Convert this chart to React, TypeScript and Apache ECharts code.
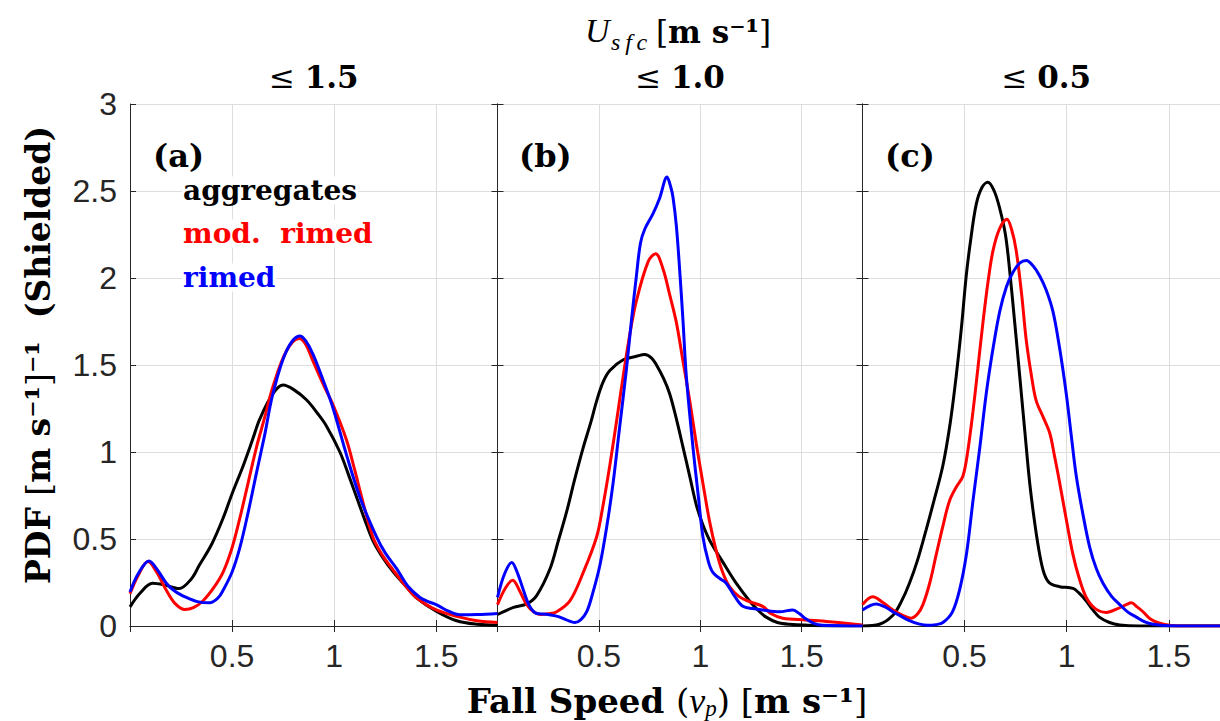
import React, { useEffect, useRef } from "react";
import * as echarts from "echarts";

// ---- data (fall speed [m/s], PDF) ----
const aggA: number[][] = [[0,0.11],[0.05,0.19],[0.11,0.245],[0.17,0.235],[0.24,0.215],[0.3,0.27],[0.34,0.35],[0.4,0.47],[0.456,0.62],[0.5,0.76],[0.554,0.92],[0.6,1.07],[0.636,1.19],[0.7,1.335],[0.75,1.385],[0.8,1.36],[0.864,1.3],[0.92,1.22],[0.962,1.15],[1.028,1.0],[1.07,0.87],[1.11,0.74],[1.15,0.61],[1.19,0.49],[1.24,0.39],[1.29,0.31],[1.35,0.23],[1.4,0.165],[1.5,0.085],[1.6,0.03],[1.7,0.01],[1.8,0.005]];
const modA: number[][] = [[0,0.185],[0.04,0.29],[0.088,0.37],[0.13,0.31],[0.178,0.205],[0.22,0.13],[0.268,0.095],[0.31,0.105],[0.358,0.145],[0.41,0.22],[0.456,0.31],[0.5,0.45],[0.538,0.62],[0.58,0.83],[0.62,1.03],[0.66,1.2],[0.7,1.375],[0.766,1.58],[0.828,1.653],[0.86,1.62],[0.897,1.52],[0.95,1.38],[0.995,1.27],[1.06,1.07],[1.1,0.9],[1.126,0.78],[1.19,0.51],[1.24,0.4],[1.29,0.32],[1.35,0.23],[1.4,0.165],[1.5,0.092],[1.616,0.051],[1.7,0.03],[1.8,0.02]];
const rimA: number[][] = [[0,0.195],[0.04,0.3],[0.093,0.374],[0.13,0.33],[0.178,0.246],[0.22,0.2],[0.276,0.164],[0.33,0.14],[0.39,0.133],[0.43,0.16],[0.456,0.205],[0.5,0.31],[0.538,0.45],[0.58,0.66],[0.62,0.883],[0.66,1.1],[0.7,1.335],[0.766,1.58],[0.832,1.667],[0.86,1.64],[0.897,1.56],[0.95,1.4],[0.995,1.25],[1.06,0.985],[1.126,0.74],[1.207,0.513],[1.25,0.42],[1.306,0.33],[1.36,0.23],[1.42,0.164],[1.46,0.14],[1.5,0.123],[1.56,0.085],[1.616,0.065],[1.7,0.066],[1.8,0.072]];

const aggB: number[][] = [[0,0.066],[0.079,0.107],[0.144,0.127],[0.193,0.175],[0.259,0.329],[0.3,0.49],[0.341,0.657],[0.38,0.84],[0.423,1.027],[0.46,1.17],[0.489,1.294],[0.52,1.4],[0.554,1.468],[0.62,1.53],[0.685,1.55],[0.726,1.56],[0.76,1.54],[0.784,1.5],[0.82,1.42],[0.849,1.335],[0.88,1.2],[0.915,1.027],[0.95,0.85],[0.98,0.698],[1.01,0.59],[1.046,0.493],[1.11,0.37],[1.177,0.246],[1.243,0.144],[1.29,0.085],[1.325,0.051],[1.38,0.02],[1.44,0.01],[1.6,0.002],[1.8,0]];
const modB: number[][] = [[0,0.123],[0.04,0.22],[0.075,0.263],[0.11,0.2],[0.144,0.123],[0.18,0.08],[0.21,0.066],[0.25,0.07],[0.292,0.082],[0.357,0.144],[0.423,0.308],[0.489,0.513],[0.52,0.69],[0.554,0.924],[0.59,1.2],[0.62,1.437],[0.65,1.66],[0.685,1.869],[0.743,2.094],[0.78,2.14],[0.816,2.053],[0.85,1.9],[0.882,1.745],[0.915,1.52],[0.948,1.294],[0.98,1.05],[1.013,0.821],[1.046,0.6],[1.079,0.431],[1.11,0.31],[1.144,0.226],[1.19,0.17],[1.243,0.14],[1.308,0.113],[1.35,0.07],[1.407,0.045],[1.52,0.035],[1.636,0.025],[1.8,0.006]];
const rimB: number[][] = [[0,0.164],[0.035,0.3],[0.07,0.365],[0.1,0.3],[0.128,0.205],[0.16,0.11],[0.193,0.072],[0.24,0.068],[0.292,0.057],[0.34,0.035],[0.382,0.02],[0.41,0.035],[0.44,0.082],[0.47,0.19],[0.505,0.349],[0.54,0.58],[0.57,0.821],[0.6,1.12],[0.636,1.478],[0.66,1.75],[0.685,2.012],[0.705,2.2],[0.726,2.28],[0.767,2.37],[0.8,2.46],[0.836,2.58],[0.855,2.52],[0.866,2.46],[0.882,2.3],[0.898,2.053],[0.915,1.75],[0.931,1.437],[0.964,1.027],[0.99,0.75],[1.013,0.513],[1.04,0.37],[1.062,0.308],[1.1,0.27],[1.128,0.246],[1.17,0.17],[1.21,0.113],[1.26,0.1],[1.308,0.092],[1.39,0.082],[1.456,0.092],[1.49,0.07],[1.52,0.041],[1.56,0.015],[1.603,0.004],[1.8,0]];

const aggC: number[][] = [[0,0],[0.083,0.01],[0.149,0.062],[0.19,0.14],[0.23,0.246],[0.27,0.38],[0.312,0.554],[0.35,0.72],[0.394,0.924],[0.43,1.17],[0.459,1.437],[0.485,1.72],[0.508,2.012],[0.53,2.22],[0.557,2.423],[0.585,2.52],[0.614,2.55],[0.645,2.5],[0.672,2.4],[0.7,2.25],[0.72,2.053],[0.745,1.75],[0.77,1.437],[0.795,1.12],[0.819,0.821],[0.845,0.58],[0.868,0.41],[0.89,0.3],[0.917,0.246],[0.966,0.226],[1.031,0.216],[1.06,0.19],[1.096,0.144],[1.13,0.09],[1.16,0.051],[1.21,0.02],[1.26,0.006],[1.35,0],[1.8,0]];
const modC: number[][] = [[0,0.123],[0.05,0.168],[0.1,0.135],[0.149,0.092],[0.2,0.06],[0.239,0.045],[0.27,0.07],[0.296,0.123],[0.33,0.25],[0.361,0.41],[0.395,0.58],[0.426,0.719],[0.46,0.8],[0.492,0.862],[0.515,1.0],[0.541,1.232],[0.565,1.48],[0.59,1.745],[0.615,1.98],[0.639,2.156],[0.67,2.28],[0.707,2.337],[0.73,2.28],[0.753,2.156],[0.78,1.9],[0.802,1.643],[0.83,1.42],[0.851,1.294],[0.885,1.2],[0.917,1.109],[0.94,0.98],[0.966,0.821],[1.0,0.6],[1.031,0.41],[1.06,0.28],[1.096,0.164],[1.14,0.1],[1.194,0.078],[1.25,0.1],[1.292,0.123],[1.317,0.133],[1.345,0.11],[1.374,0.082],[1.41,0.04],[1.456,0.016],[1.54,0],[1.8,0]];
const rimC: number[][] = [[0,0.092],[0.067,0.127],[0.11,0.11],[0.149,0.082],[0.19,0.055],[0.23,0.031],[0.275,0.012],[0.32,0.004],[0.36,0.008],[0.394,0.02],[0.44,0.08],[0.475,0.205],[0.51,0.42],[0.541,0.719],[0.575,1.03],[0.606,1.335],[0.64,1.6],[0.672,1.807],[0.705,1.95],[0.737,2.033],[0.77,2.085],[0.802,2.1],[0.835,2.07],[0.868,2.012],[0.9,1.93],[0.933,1.807],[0.965,1.6],[0.998,1.335],[1.022,1.1],[1.047,0.862],[1.08,0.64],[1.113,0.452],[1.145,0.33],[1.178,0.246],[1.22,0.17],[1.26,0.123],[1.3,0.08],[1.341,0.051],[1.38,0.025],[1.423,0.01],[1.5,0.002],[1.8,0]];

const panelData = [[aggA, modA, rimA], [aggB, modB, rimB], [aggC, modC, rimC]];
const seriesNames = ["aggregates", "mod.  rimed", "rimed"];
const seriesColors = ["#000000", "#ff0000", "#0000ff"];
const panelTitles = ["1.5", "1.0", "0.5"];
const panelLetters = ["(a)", "(b)", "(c)"];
const xTickLabels = [0.5, 1, 1.5];
const X_MIN = 0, X_MAX = 1.8, Y_MIN = 0, Y_MAX = 3;

const SUP = "\u207B\u00B9";
const AX = "#262626";
const GRIDC = "#dedede";
const SERIF = "DejaVu Serif";

export default function App() {
  const ref = useRef<HTMLDivElement>(null);
  useEffect(() => {
    if (!ref.current) return;
    const chart = echarts.init(ref.current, undefined, { renderer: "svg" });
    const lefts = [130, 497.5, 862.5];
    const widths = [367.5, 365, 367.5];
    const grids = lefts.map((l, i) => ({ left: l, top: 104, width: widths[i], height: 522, containLabel: false }));
    const xAxes: any[] = [];
    const yAxes: any[] = [];
    lefts.forEach((_, i) => {
      xAxes.push({
        type: "value", gridIndex: i, min: X_MIN, max: X_MAX, interval: 0.5, position: "bottom",
        axisLine: { show: true, lineStyle: { color: AX, width: 1 } },
        axisTick: { show: true, inside: true, length: 6, lineStyle: { color: AX } },
        splitLine: { show: true, lineStyle: { color: GRIDC, width: 1 } },
        axisLabel: {
          show: true, margin: 14, color: AX, fontFamily: "Liberation Sans", fontSize: 32,
          showMinLabel: false, showMaxLabel: false,
          formatter: (v: number) => (xTickLabels.some((t) => Math.abs(t - v) < 1e-9) ? String(v) : ""),
        },
      });
      xAxes.push({
        type: "value", gridIndex: i, min: X_MIN, max: X_MAX, interval: 0.5, position: "top",
        axisLine: { show: true, lineStyle: { color: AX, width: 1 } },
        axisTick: { show: true, inside: true, length: 6, lineStyle: { color: AX } },
        splitLine: { show: false }, axisLabel: { show: false },
      });
      yAxes.push({
        type: "value", gridIndex: i, min: Y_MIN, max: Y_MAX, interval: 0.5, position: "left",
        axisLine: { show: true, onZero: false, lineStyle: { color: AX, width: 1 } },
        axisTick: { show: true, inside: true, length: 6, lineStyle: { color: AX } },
        splitLine: { show: true, lineStyle: { color: GRIDC, width: 1 } },
        axisLabel: { show: i === 0, margin: 13, color: AX, fontFamily: "Liberation Sans", fontSize: 32 },
      });
      yAxes.push({
        type: "value", gridIndex: i, min: Y_MIN, max: Y_MAX, interval: 0.5, position: "right",
        axisLine: { show: true, onZero: false, lineStyle: { color: AX, width: 1 } },
        axisTick: { show: true, inside: true, length: 6, lineStyle: { color: AX } },
        splitLine: { show: false }, axisLabel: { show: false },
      });
    });
    const series: any[] = [];
    panelData.forEach((panel, i) => {
      panel.forEach((d, j) => {
        series.push({
          type: "line", name: seriesNames[j], xAxisIndex: i * 2, yAxisIndex: i * 2,
          data: d, smooth: 0.35, showSymbol: false, symbol: "none", clip: true,
          lineStyle: { color: seriesColors[j], width: 3 }, z: 3 + j,
        });
      });
    });

    const centers = lefts.map((l, i) => l + widths[i] / 2);
    const graphics: any[] = [];
    // Top title
    graphics.push({ type: "text", z: 100, x: 585, y: 30.5, style: { text: "U", font: `italic 34px 'Liberation Serif'`, fill: "#000", align: "left", verticalAlign: "middle" } });
    graphics.push({ type: "text", z: 100, x: 611, y: 42, style: { text: "s\u2009f\u2009c", font: `italic 24px 'Liberation Serif'`, fill: "#000", align: "left", verticalAlign: "middle" } });
    graphics.push({
      type: "text", z: 100, x: 656, y: 31.5,
      style: {
        text: "{n|[}{b|m s" + SUP + "}{n|]}", align: "left", verticalAlign: "middle",
        rich: {
          n: { fontFamily: SERIF, fontSize: 31, fontWeight: "normal", fill: "#000" },
          b: { fontFamily: SERIF, fontSize: 31, fontWeight: "bold", fill: "#000" },
        },
      },
    });
    panelTitles.forEach((t, i) => {
      graphics.push({
        type: "text", z: 100, x: centers[i], y: 76.5,
        style: {
          text: "{n|\u2264 }{b|" + t + "}", align: "center", verticalAlign: "middle",
          rich: {
            n: { fontFamily: SERIF, fontSize: 31, fontWeight: "normal", fill: "#000" },
            b: { fontFamily: SERIF, fontSize: 31, fontWeight: "bold", fill: "#000" },
          },
        },
      });
    });
    const letterX = [153, 519, 885];
    panelLetters.forEach((t, i) => {
      graphics.push({ type: "text", z: 100, x: letterX[i], y: 156, style: { text: t, font: `bold 32px '${SERIF}'`, fill: "#000", align: "left", verticalAlign: "middle" } });
    });
    const legendY = [190.5, 233.5, 277.5];
    seriesNames.forEach((n, j) => {
      graphics.push({
        type: "text", z: 100, x: 182, y: legendY[j],
        style: { text: n, font: `bold 28px '${SERIF}'`, fill: seriesColors[j], align: "left", verticalAlign: "middle", backgroundColor: "#ffffff", padding: [0, 1, 0, 1] },
      });
    });
    // Y axis title
    graphics.push({
      type: "text", z: 100, x: 38, y: 355, rotation: Math.PI / 2,
      style: {
        text: "{b|PDF }{n|[}{b|m s" + SUP + "}{n|]}{b|" + SUP + "  (Shielded)}", align: "center", verticalAlign: "middle",
        rich: {
          n: { fontFamily: SERIF, fontSize: 33, fontWeight: "normal", fill: "#000" },
          b: { fontFamily: SERIF, fontSize: 33, fontWeight: "bold", fill: "#000" },
        },
      },
    });
    // X axis title
    graphics.push({
      type: "text", z: 100, x: 667, y: 701,
      style: {
        text: "{b|Fall Speed }{n|(}{i|v}{s|p}{n|) [}{b|m s" + SUP + "}{n|]}", align: "center", verticalAlign: "middle",
        rich: {
          n: { fontFamily: SERIF, fontSize: 34, fontWeight: "normal", fill: "#000" },
          b: { fontFamily: SERIF, fontSize: 34, fontWeight: "bold", fill: "#000" },
          i: { fontFamily: "Liberation Serif", fontSize: 36, fontStyle: "italic", fill: "#000" },
          s: { fontFamily: "Liberation Serif", fontSize: 23, fontStyle: "italic", fill: "#000", verticalAlign: "bottom", padding: [14, 0, 0, 0] },
        },
      },
    });

    chart.setOption({
      animation: false,
      backgroundColor: "#ffffff",
      grid: grids,
      xAxis: xAxes,
      yAxis: yAxes,
      series,
      graphic: graphics,
    });
    return () => chart.dispose();
  }, []);
  return (
    <div style={{ position: "fixed", left: 0, top: 0, width: 1220, height: 721, overflow: "hidden", background: "#fff" }}>
      <div ref={ref} style={{ width: 1232, height: 721 }} />
    </div>
  );
}
